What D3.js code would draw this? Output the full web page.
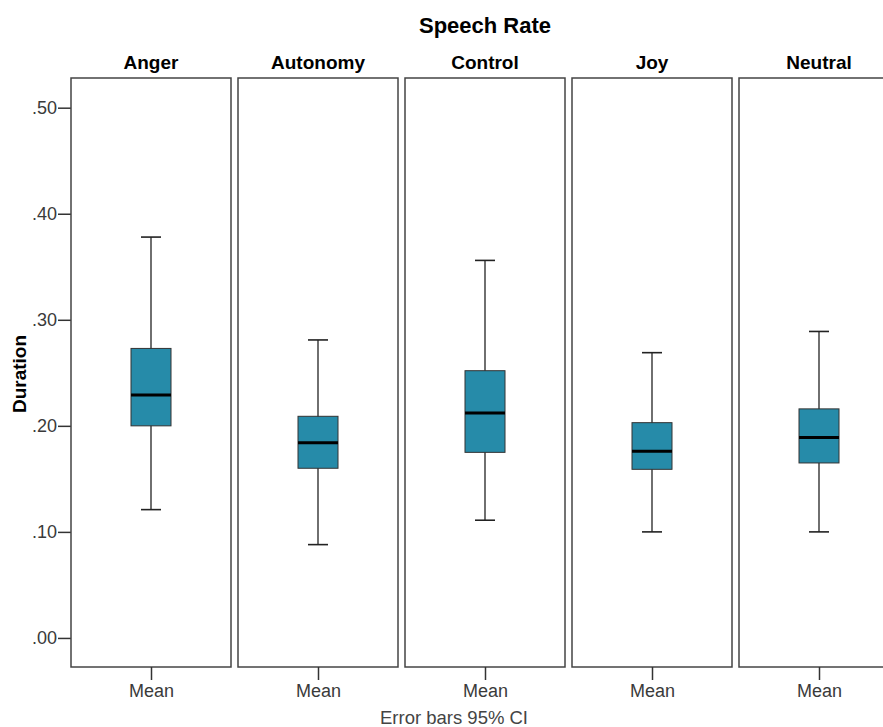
<!DOCTYPE html>
<html lang="en">
<head>
    <meta charset="UTF-8">
    <title>Speech Rate</title>
    <script src="https://d3js.org/d3.v7.min.js"></script>
    <style>
        body { margin: 0; background: #fff; }
        text { font-family: "Liberation Sans", Arial, sans-serif; }
    </style>
</head>
<body>
    <script>
        // data
        var categories = ['Anger', 'Autonomy', 'Control', 'Joy', 'Neutral'];
        var whiskerHigh = [0.378, 0.281, 0.356, 0.269, 0.289];
        var boxHigh     = [0.273, 0.209, 0.252, 0.203, 0.216];
        var medians     = [0.229, 0.184, 0.212, 0.176, 0.189];
        var boxLow      = [0.200, 0.160, 0.175, 0.159, 0.165];
        var whiskerLow  = [0.121, 0.088, 0.111, 0.100, 0.100];
        var yTicks = [0, 0.1, 0.2, 0.3, 0.4, 0.5];

        var width = 883;
        var height = 727;

        var svg = d3.select('body')
                    .append('svg')
                    .attr('width', width)
                    .attr('height', height);

        var panelScale = d3.scaleBand()
                           .domain(categories)
                           .range([71, 899])
                           .paddingInner(7 / 167);

        var yScale = d3.scaleLinear()
                       .domain([-0.0274, 0.528])
                       .range([667, 78]);

        var inner = d3.scalePoint()
                      .domain(['Mean'])
                      .range([0, panelScale.bandwidth()])
                      .padding(0.5);

        var fmt = function(d) { return d3.format('.2f')(d).replace(/^0/, ''); };

        // title
        svg.append('text')
           .attr('x', 485)
           .attr('y', 33)
           .attr('text-anchor', 'middle')
           .attr('font-size', 22)
           .attr('font-weight', 'bold')
           .text('Speech Rate');

        // y axis
        var yAxis = d3.axisLeft(yScale)
                      .tickValues(yTicks)
                      .tickSize(13)
                      .tickPadding(1)
                      .tickFormat(fmt);

        var yg = svg.append('g')
                    .attr('transform', 'translate(71,0)')
                    .call(yAxis);
        yg.select('.domain').remove();
        yg.selectAll('line').attr('stroke', '#333').attr('stroke-width', 1.5);
        yg.selectAll('text')
          .attr('font-size', 18)
          .attr('fill', '#3a3a3a')
          .style('font-family', '"Liberation Sans", Arial, sans-serif');

        svg.append('text')
           .attr('transform', 'translate(26,' + 374 + ') rotate(-90)')
           .attr('text-anchor', 'middle')
           .attr('font-size', 19)
           .attr('font-weight', 'bold')
           .text('Duration');

        var panels = svg.selectAll('.panel')
                        .data(categories)
                        .enter()
                        .append('g')
                        .attr('class', 'panel')
                        .attr('transform', function(d) { return 'translate(' + panelScale(d) + ',0)'; });

        panels.append('rect')
              .attr('x', 0)
              .attr('y', 78)
              .attr('width', panelScale.bandwidth())
              .attr('height', 667 - 78)
              .attr('fill', 'none')
              .attr('stroke', '#444')
              .attr('stroke-width', 1.5);

        panels.append('text')
              .attr('x', panelScale.bandwidth() / 2)
              .attr('y', 69)
              .attr('text-anchor', 'middle')
              .attr('font-size', 19)
              .attr('font-weight', 'bold')
              .text(function(d) { return d; });

        // bottom axis per panel
        panels.each(function() {
            var xa = d3.select(this).append('g')
                       .attr('transform', 'translate(0,667)')
                       .call(d3.axisBottom(inner).tickSize(13).tickPadding(4));
            xa.select('.domain').remove();
            xa.selectAll('line').attr('stroke', '#333').attr('stroke-width', 1.5);
            xa.selectAll('text')
              .attr('font-size', 18)
              .attr('fill', '#3a3a3a')
              .style('font-family', '"Liberation Sans", Arial, sans-serif');
        });

        var cx = inner('Mean');

        // whiskers
        panels.append('line')
              .attr('x1', cx).attr('x2', cx)
              .attr('y1', function(d, i) { return yScale(whiskerHigh[i]); })
              .attr('y2', function(d, i) { return yScale(whiskerLow[i]); })
              .attr('stroke', '#222')
              .attr('stroke-width', 1.3);

        panels.append('line')
              .attr('x1', cx - 10).attr('x2', cx + 10)
              .attr('y1', function(d, i) { return yScale(whiskerHigh[i]); })
              .attr('y2', function(d, i) { return yScale(whiskerHigh[i]); })
              .attr('stroke', '#222')
              .attr('stroke-width', 1.6);

        panels.append('line')
              .attr('x1', cx - 10).attr('x2', cx + 10)
              .attr('y1', function(d, i) { return yScale(whiskerLow[i]); })
              .attr('y2', function(d, i) { return yScale(whiskerLow[i]); })
              .attr('stroke', '#222')
              .attr('stroke-width', 1.6);

        // boxes
        panels.append('rect')
              .attr('x', cx - 20)
              .attr('width', 40)
              .attr('y', function(d, i) { return yScale(boxHigh[i]); })
              .attr('height', function(d, i) { return yScale(boxLow[i]) - yScale(boxHigh[i]); })
              .attr('fill', '#268ba9')
              .attr('stroke', '#333')
              .attr('stroke-width', 1);

        panels.append('line')
              .attr('x1', cx - 20).attr('x2', cx + 20)
              .attr('y1', function(d, i) { return yScale(medians[i]); })
              .attr('y2', function(d, i) { return yScale(medians[i]); })
              .attr('stroke', '#000')
              .attr('stroke-width', 3);

        svg.append('text')
           .attr('x', 454)
           .attr('y', 724)
           .attr('text-anchor', 'middle')
           .attr('font-size', 18.5)
           .attr('fill', '#444')
           .text('Error bars 95% CI');
    </script>
</body>
</html>
